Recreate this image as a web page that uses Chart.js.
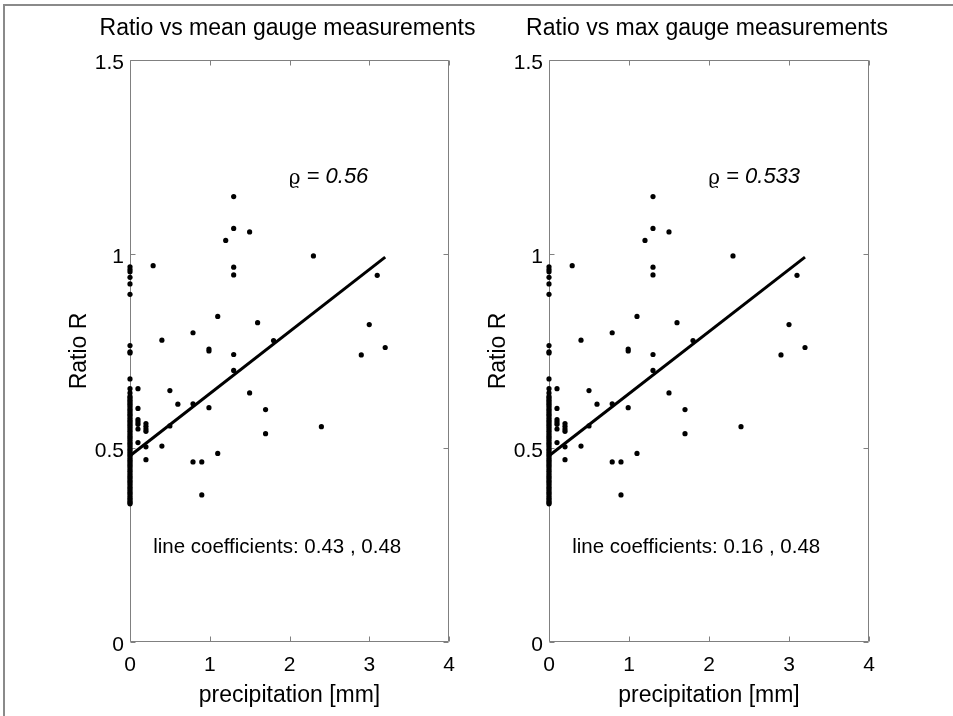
<!DOCTYPE html>
<html>
<head>
<meta charset="utf-8">
<script src="https://cdn.jsdelivr.net/npm/chart.js@4.4.1/dist/chart.umd.min.js"></script>
<style>
html,body{margin:0;padding:0;background:#fff;}
#fig{position:relative;width:953px;height:716px;overflow:hidden;background:#fff;}
#frame{position:absolute;left:3px;top:4px;width:970px;height:740px;border-top:2px solid #8a8a8a;border-left:2px solid #8a8a8a;}
canvas{position:absolute;top:0;}
</style>
</head>
<body>
<div id="fig">
  <div id="frame"></div>
  <canvas id="c1" width="476" height="716" style="left:0px;width:476px;height:716px"></canvas>
  <canvas id="c2" width="476" height="716" style="left:419px;width:476px;height:716px"></canvas>
</div>
<script>
// ---------------- data ----------------
const panelTitles = ['Ratio vs mean gauge measurements', 'Ratio vs max gauge measurements'];
const rhoValues = ['0.56', '0.533'];
const coefSlopeText = ['0.43', '0.16'];
const coefInterceptText = ['0.48', '0.48'];

const xTickValues = [0, 1, 2, 3, 4];
const yTickValues = [0, 0.5, 1, 1.5];
const yTickLabels = ['0', '0.5', '1', '1.5'];

// ratios for days with zero precipitation
const zeroPrecipRatios = [
  0.967, 0.960, 0.954, 0.940, 0.923, 0.896, 0.764, 0.748, 0.745, 0.678, 0.653, 0.642, 0.633,
  0.629, 0.624, 0.620, 0.615, 0.611, 0.606, 0.601, 0.597, 0.592, 0.587, 0.583, 0.578, 0.573,
  0.569, 0.564, 0.559, 0.555, 0.550, 0.545, 0.541, 0.536, 0.531, 0.527, 0.522, 0.517, 0.512,
  0.508, 0.503, 0.498, 0.494, 0.489, 0.484, 0.480, 0.475, 0.470, 0.466, 0.461, 0.456, 0.452,
  0.447, 0.442, 0.438, 0.433, 0.428, 0.424, 0.419, 0.414, 0.410, 0.405, 0.400, 0.396, 0.391,
  0.386, 0.382, 0.377, 0.372, 0.368, 0.363, 0.359, 0.356
];

// days with positive precipitation
const precipMm = [
  0.10, 0.10, 0.10, 0.10, 0.10, 0.10, 0.10,
  0.20, 0.20, 0.20, 0.20, 0.20, 0.20,
  0.29, 0.40, 0.40, 0.50, 0.50, 0.60,
  0.79, 0.79, 0.79, 0.90, 0.90,
  0.99, 0.99, 0.99, 1.10, 1.10, 1.20,
  1.30, 1.30, 1.30, 1.30, 1.30, 1.30,
  1.50, 1.50, 1.60, 1.70, 1.70, 1.80,
  2.30, 2.40, 2.90, 3.00, 3.10, 3.20
];
const ratioR = [
  0.653, 0.602, 0.573, 0.567, 0.561, 0.549, 0.514,
  0.563, 0.556, 0.549, 0.543, 0.503, 0.470,
  0.970, 0.778, 0.505, 0.648, 0.557, 0.613,
  0.797, 0.614, 0.464, 0.464, 0.379,
  0.755, 0.750, 0.604, 0.839, 0.486, 1.035,
  1.148, 1.066, 0.966, 0.946, 0.741, 0.700,
  1.057, 0.642, 0.823, 0.599, 0.537, 0.777,
  0.995, 0.555, 0.740, 0.818, 0.945, 0.759
];

// fitted line
const fitSlope = 0.16;
const fitIntercept = 0.48;
const fitXRange = [0, 3.2];

// annotation anchors (data units)
const rhoAnchor = [1.99, 1.198];
const coefAnchor = [0.29, 0.245];

// ---------------- build ----------------
const scatterPoints = zeroPrecipRatios.map(v => ({x: 0, y: v}))
  .concat(precipMm.map((p, i) => ({x: p, y: ratioR[i]})));
const fitPoints = fitXRange.map(xv => ({x: xv, y: fitIntercept + fitSlope * xv}));

const SANS = '"Liberation Sans", Arial, Helvetica, sans-serif';
const AXIS_COLOR = '#808080';

const boxPlugin = {
  id: 'matlabBox',
  beforeDatasetsDraw(chart) {
    const {ctx, chartArea: a, scales} = chart;
    const L = Math.round(a.left) + 0.5, R = Math.round(a.right) - 0.5;
    const T = Math.round(a.top) + 0.5, B = Math.round(a.bottom) - 0.5;
    ctx.save();
    ctx.strokeStyle = AXIS_COLOR;
    ctx.lineWidth = 1;
    ctx.beginPath();
    ctx.moveTo(L, T); ctx.lineTo(R, T); ctx.lineTo(R, B); ctx.lineTo(L, B); ctx.closePath();
    const tl = 5;
    xTickValues.forEach(v => {
      const px = Math.round(scales.x.getPixelForValue(v)) + 0.5;
      ctx.moveTo(px, B); ctx.lineTo(px, B - tl);
      ctx.moveTo(px, T); ctx.lineTo(px, T + tl);
    });
    yTickValues.forEach(v => {
      const py = Math.round(scales.y.getPixelForValue(v)) + 0.5;
      ctx.moveTo(L, py); ctx.lineTo(L + tl, py);
      ctx.moveTo(R, py); ctx.lineTo(R - tl, py);
    });
    ctx.stroke();
    ctx.restore();
  },
  afterDatasetsDraw(chart, args, opts) {
    const {ctx, scales, chartArea: a} = chart;
    const i = opts.panel;
    ctx.save();
    ctx.fillStyle = '#000';
    // panel title, centred over the axes
    ctx.textBaseline = 'middle';
    ctx.textAlign = 'center';
    ctx.font = '23px ' + SANS;
    ctx.fillText(panelTitles[i], (a.left + a.right) / 2 - 2, 29);
    ctx.textAlign = 'left';
    // rho annotation
    let px = scales.x.getPixelForValue(rhoAnchor[0]);
    let py = scales.y.getPixelForValue(rhoAnchor[1]);
    ctx.font = '20px "DejaVu Serif", serif';
    ctx.fillText('\u03F1', px, py + 2);
    const w = ctx.measureText('\u03F1').width;
    ctx.font = 'italic 22px ' + SANS;
    ctx.fillText(' = ' + rhoValues[i], px + w, py);
    // coefficient annotation
    px = scales.x.getPixelForValue(coefAnchor[0]);
    py = scales.y.getPixelForValue(coefAnchor[1]);
    ctx.font = '20.5px ' + SANS;
    ctx.fillText('line coefficients: ' + coefSlopeText[i] + ' , ' + coefInterceptText[i], px, py);
    ctx.restore();
  }
};

function makeChart(canvasId, panel, rightPad) {
  return new Chart(document.getElementById(canvasId), {
    type: 'scatter',
    data: {
      datasets: [
        {
          type: 'scatter',
          data: scatterPoints,
          backgroundColor: '#000',
          borderColor: '#000',
          borderWidth: 0,
          pointRadius: 2.6,
          pointHoverRadius: 2.6,
          clip: false,
          order: 2
        },
        {
          type: 'line',
          data: fitPoints,
          borderColor: '#000',
          borderWidth: 3,
          pointRadius: 0,
          fill: false,
          tension: 0,
          clip: false,
          order: 1
        }
      ]
    },
    options: {
      responsive: false,
      animation: false,
      devicePixelRatio: 1,
      events: [],
      layout: {padding: {left: 0, right: rightPad, top: 60, bottom: 0}},
      plugins: {
        legend: {display: false},
        tooltip: {enabled: false},
        title: {display: false},
        matlabBox: {panel: panel}
      },
      scales: {
        x: {
          type: 'linear',
          min: 0, max: 4,
          grid: {display: false, drawTicks: false},
          border: {display: false},
          afterBuildTicks: s => { s.ticks = xTickValues.map(v => ({value: v})); },
          ticks: {
            color: '#000',
            font: {family: SANS, size: 21},
            padding: 11,
            maxRotation: 0,
            autoSkip: false,
            callback: v => String(v)
          },
          title: {
            display: true,
            text: 'precipitation [mm]',
            color: '#000',
            font: {family: SANS, size: 23, lineHeight: 1.2},
            padding: {top: 0, bottom: 7}
          },
          afterFit: s => { s.height = 74; s.paddingLeft = 0; s.paddingRight = 0; }
        },
        y: {
          type: 'linear',
          min: 0, max: 1.5,
          grid: {display: false, drawTicks: false},
          border: {display: false},
          afterBuildTicks: s => { s.ticks = yTickValues.map(v => ({value: v})); },
          ticks: {
            color: '#000',
            font: {family: SANS, size: 21},
            padding: 6,
            labelOffset: 3,
            autoSkip: false,
            callback: (v, idx) => yTickLabels[idx]
          },
          title: {
            display: true,
            text: 'Ratio R',
            color: '#000',
            font: {family: SANS, size: 23, lineHeight: 1.2},
            padding: {top: 66, bottom: 0}
          },
          afterFit: s => { s.width = 130; s.paddingTop = 0; s.paddingBottom = 0; }
        }
      }
    },
    plugins: [boxPlugin]
  });
}

makeChart('c1', 0, 27);
makeChart('c2', 1, 26);
</script>
</body>
</html>
